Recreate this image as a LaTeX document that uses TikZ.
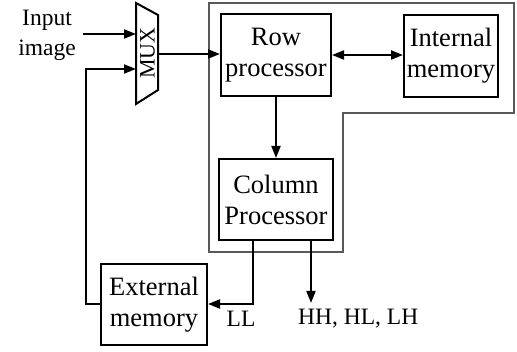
\documentclass[tikz,border=0pt]{standalone}
\usepackage{fontspec}
\setmainfont{Liberation Serif}
\usetikzlibrary{arrows.meta}
\begin{document}
\begin{tikzpicture}[x=1pt,y=-1pt,
  blk/.style={draw=black,line width=2pt,inner sep=0pt,align=center,
    font=\fontsize{26.5}{31}\selectfont},
  lbl/.style={inner sep=0pt,font=\fontsize{23.5}{28}\selectfont},
  tip/.tip={Triangle[length=12pt,width=9pt]},
  arr/.style={line width=2pt,-tip},
  dbl/.style={line width=2pt,tip-tip}]
\useasboundingbox (0,0) rectangle (517,352);
% outer grey boundary
\draw[line width=1.3pt,black!65] (209,3) -- (514,3) -- (514,113) -- (343,113) -- (343,252) -- (209,252) -- cycle;
% blocks
\node[blk,minimum width=110pt,minimum height=82pt] (row) at (276,55) {Row\\processor};
\node[blk,minimum width=94pt,minimum height=82pt] (int) at (451,56) {Internal\\memory};
\node[blk,minimum width=114pt,minimum height=81pt] (col) at (276,199.5) {Column\\Processor};
\node[blk,minimum width=106pt,minimum height=81pt] (ext) at (154,304.5) {External\\memory};
% MUX
\coordinate (m1) at (136,3);
\coordinate (m2) at (158,15);
\coordinate (m3) at (158,90);
\coordinate (m4) at (136,104);
\draw[line width=2pt,line join=miter] (m1) -- (m2) -- (m3) -- (m4) -- cycle;
\node[rotate=90,inner sep=0pt,font=\fontsize{22}{26}\selectfont] (mux) at (147.5,53) {MUX};
\coordinate (muxin1) at (136,34);
\coordinate (muxin2) at (136,69);
\coordinate (muxout) at (158,54);
% input
\node[inner sep=0pt,align=center,font=\fontsize{23.5}{30}\selectfont] (inp) at (47,35) {Input\\image};
\coordinate (inpstart) at (83,34);
\draw[arr] (inpstart) -- (muxin1);
\draw[arr] (muxout) -- (row.west |- muxout);
\draw[dbl] (row.east) -- (int.west |- row.east);
\draw[arr] (row.south) -- (col.north);
% outputs
\coordinate (llx) at (253,240);
\coordinate (hhx) at (311,240);
\coordinate (hhend) at (311,303);
\draw[arr] (llx) -- (253,304) -- (ext.east |- 0,304);
\draw[arr] (hhx) -- (hhend);
\node[lbl] (ll) at (241,319) {LL};
\node[lbl,anchor=west] (hh) at (298,319) {HH, HL, LH};
% feedback
\draw[arr] (ext.west |- 0,304) -- (86,304) -- (86,69) -- (muxin2);
\end{tikzpicture}
\end{document}
